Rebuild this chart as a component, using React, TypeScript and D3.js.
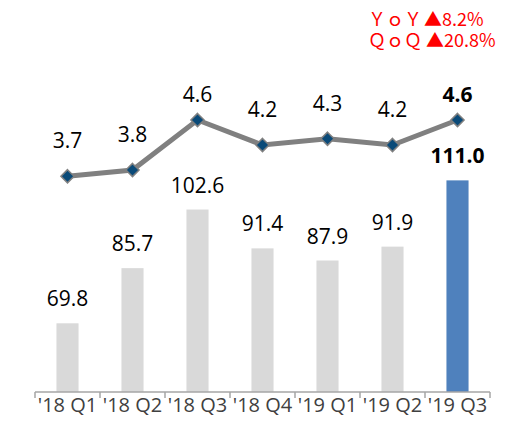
import * as d3 from 'd3';

// data
const quarters = ["'18 Q1", "'18 Q2", "'18 Q3", "'18 Q4", "'19 Q1", "'19 Q2", "'19 Q3"];
const barValues = [69.8, 85.7, 102.6, 91.4, 87.9, 91.9, 111.0];
const lineValues = [3.7, 3.8, 4.6, 4.2, 4.3, 4.2, 4.6];
const yoy = '8.2%';
const qoq = '20.8%';

const W = 518;
const H = 424;
const FONT = "'Open Sans', 'DejaVu Sans', sans-serif";
const JP = "'Noto Sans CJK JP', sans-serif";

export default function App() {
  const x = d3.scaleBand<string>().domain(quarters).range([35, 490]).padding(0);
  const yBar = d3.scaleLinear().domain([50, 115]).range([392, 166.5]);
  const yLine = d3.scaleLinear().domain([2, 6]).range([282.5, 32.5]);

  const bw = x.bandwidth() * 0.34;
  const cx = (q: string) => (x(q) ?? 0) + x.bandwidth() / 2;
  const last = quarters.length - 1;

  const linePath = d3.line<number>()
    .x((_, i) => cx(quarters[i]))
    .y(d => yLine(d))(lineValues) ?? '';

  const diamond = d3.symbol().type(d3.symbolDiamond2).size(110)() ?? '';

  const ticks = [...quarters.map(q => x(q) ?? 0), 490];

  return (
    <svg width={W} height={H} style={{ position: 'absolute', left: 0, top: 0, fontFamily: FONT }}>
      {/* 棒グラフ */}
      {barValues.map((v, i) => (
        <rect key={'b' + i}
          x={cx(quarters[i]) - bw / 2}
          y={yBar(v)}
          width={bw}
          height={yBar.range()[0] - yBar(v)}
          fill={i === last ? '#4f81bd' : '#d9d9d9'} />
      ))}
      {barValues.map((v, i) => (
        <text key={'bl' + i}
          x={cx(quarters[i])}
          y={yBar(v) - 17}
          textAnchor="middle"
          fontSize={21}
          fontWeight={i === last ? 'bold' : 'normal'}
          fill="#000">{v.toFixed(1)}</text>
      ))}

      {/* X軸 */}
      <line x1={35} x2={490} y1={392} y2={392} stroke="#a6a6a6" strokeWidth={1.5} />
      {ticks.map((t, i) => (
        <line key={'t' + i} x1={t} x2={t} y1={392} y2={398} stroke="#a6a6a6" strokeWidth={1.5} />
      ))}
      {quarters.map(q => (
        <text key={q} x={cx(q)} y={412} textAnchor="middle" fontSize={20} fill="#404040">{q}</text>
      ))}

      {/* 折れ線 */}
      <path d={linePath} fill="none" stroke="#808080" strokeWidth={5} />
      {lineValues.map((v, i) => (
        <path key={'m' + i} d={diamond}
          transform={`translate(${cx(quarters[i])},${yLine(v)})`}
          fill="#0a4a78" stroke="#808080" strokeWidth={1.5} />
      ))}
      {lineValues.map((v, i) => (
        <text key={'ll' + i}
          x={cx(quarters[i])}
          y={Math.max(yLine(v) - 28, 102)}
          textAnchor="middle"
          fontSize={21}
          fontWeight={i === last ? 'bold' : 'normal'}
          fill="#000">{v.toFixed(1)}</text>
      ))}

      {/* YoY / QoQ（全角） */}
      <text fontSize={18} fill="#ff0000" fontFamily={JP}>
        <tspan x={368} y={26}>ＹｏＹ</tspan>
        <tspan x={424} y={26}>▲{yoy}</tspan>
        <tspan x={368} y={47}>ＱｏＱ</tspan>
        <tspan x={426} y={47}>▲{qoq}</tspan>
      </text>
    </svg>
  );
}
